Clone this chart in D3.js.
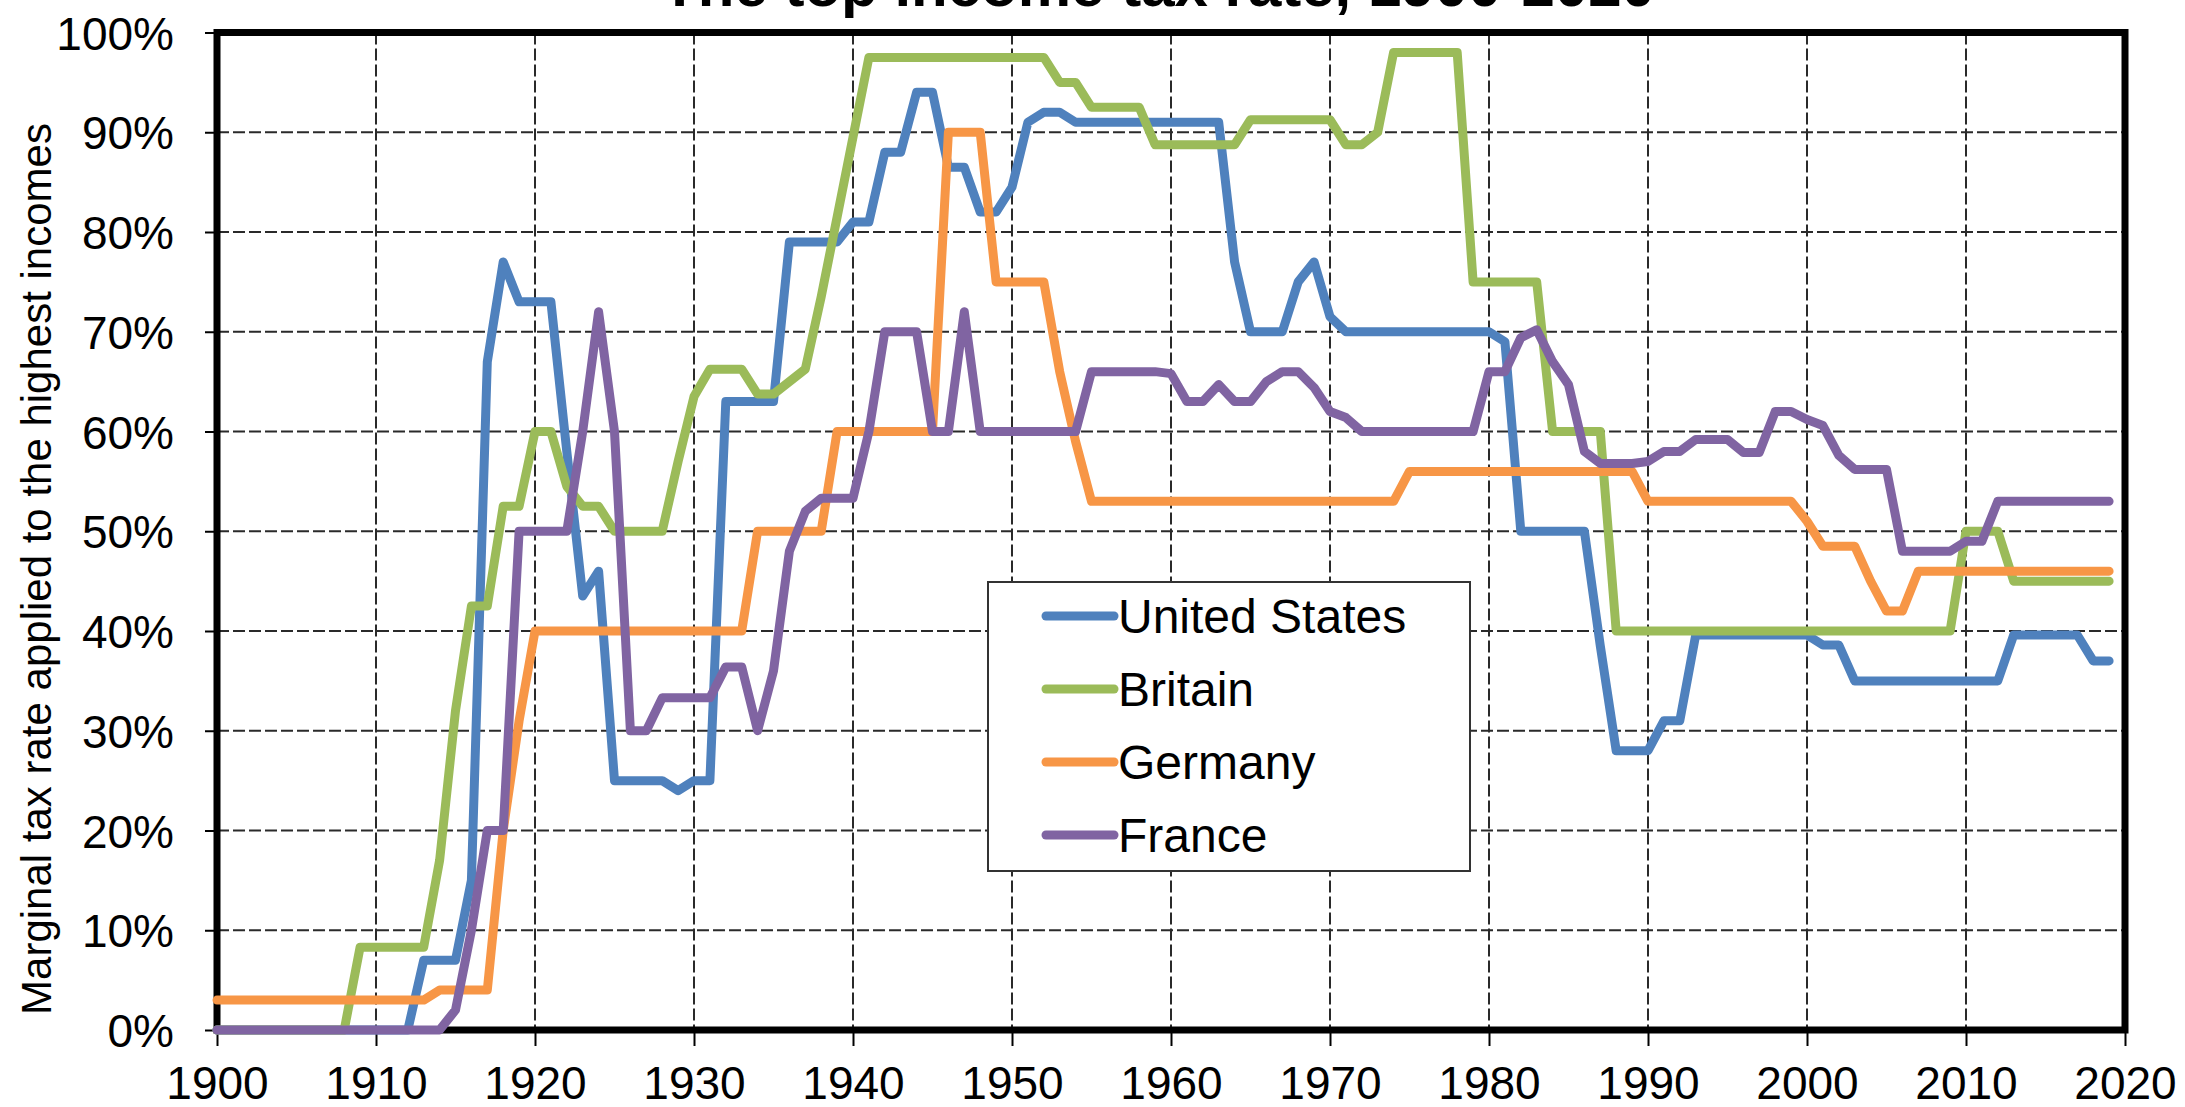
<!DOCTYPE html>
<html>
<head>
<meta charset="utf-8">
<script src="https://cdn.jsdelivr.net/npm/d3@7"></script>
<style>
  body { margin: 0; background: #fff; }
  svg { display: block; font-family: "Liberation Sans", Arial, sans-serif; }
</style>
</head>
<body>
<svg id="chart" width="2185" height="1107"></svg>
<script>
// --- Data (top marginal income tax rate, %, one value per year 1900-2019)
const years = d3.range(1900, 2020);

const unitedStates = [
  0, 0, 0, 0, 0, 0, 0, 0, 0, 0,
  0, 0, 0, 7, 7, 7, 15, 67, 77, 73,
  73, 73, 58, 43.5, 46, 25, 25, 25, 25, 24,
  25, 25, 63, 63, 63, 63, 79, 79, 79, 79,
  81, 81, 88, 88, 94, 94, 86.5, 86.5, 82, 82,
  84.5, 91, 92, 92, 91, 91, 91, 91, 91, 91,
  91, 91, 91, 91, 77, 70, 70, 70, 75, 77,
  71.5, 70, 70, 70, 70, 70, 70, 70, 70, 70,
  70, 69, 50, 50, 50, 50, 50, 38.5, 28, 28,
  28, 31, 31, 39.6, 39.6, 39.6, 39.6, 39.6, 39.6, 39.6,
  39.6, 38.6, 38.6, 35, 35, 35, 35, 35, 35, 35,
  35, 35, 35, 39.6, 39.6, 39.6, 39.6, 39.6, 37, 37
];

const britain = [
  0, 0, 0, 0, 0, 0, 0, 0, 0, 8.3,
  8.3, 8.3, 8.3, 8.3, 17, 32, 42.5, 42.5, 52.5, 52.5,
  60, 60, 54.5, 52.5, 52.5, 50, 50, 50, 50, 57,
  63.5, 66.25, 66.25, 66.25, 63.75, 63.75, 65, 66.25, 73.5, 81.5,
  89.5, 97.5, 97.5, 97.5, 97.5, 97.5, 97.5, 97.5, 97.5, 97.5,
  97.5, 97.5, 97.5, 95, 95, 92.5, 92.5, 92.5, 92.5, 88.75,
  88.75, 88.75, 88.75, 88.75, 88.75, 91.25, 91.25, 91.25, 91.25, 91.25,
  91.25, 88.75, 88.75, 90, 98, 98, 98, 98, 98, 75,
  75, 75, 75, 75, 60, 60, 60, 60, 40, 40,
  40, 40, 40, 40, 40, 40, 40, 40, 40, 40,
  40, 40, 40, 40, 40, 40, 40, 40, 40, 40,
  50, 50, 50, 45, 45, 45, 45, 45, 45, 45
];

const germany = [
  3, 3, 3, 3, 3, 3, 3, 3, 3, 3,
  3, 3, 3, 3, 4, 4, 4, 4, 20, 31,
  40, 40, 40, 40, 40, 40, 40, 40, 40, 40,
  40, 40, 40, 40, 50, 50, 50, 50, 50, 60,
  60, 60, 60, 60, 60, 60, 90, 90, 90, 75,
  75, 75, 75, 66, 59, 53, 53, 53, 53, 53,
  53, 53, 53, 53, 53, 53, 53, 53, 53, 53,
  53, 53, 53, 53, 53, 56, 56, 56, 56, 56,
  56, 56, 56, 56, 56, 56, 56, 56, 56, 56,
  53, 53, 53, 53, 53, 53, 53, 53, 53, 53,
  51, 48.5, 48.5, 48.5, 45, 42, 42, 46, 46, 46,
  46, 46, 46, 46, 46, 46, 46, 46, 46, 46
];

const france = [
  0, 0, 0, 0, 0, 0, 0, 0, 0, 0,
  0, 0, 0, 0, 0, 2, 10, 20, 20, 50,
  50, 50, 50, 60, 72, 60, 30, 30, 33.3, 33.3,
  33.3, 33.3, 36.4, 36.4, 30, 36, 48, 52, 53.3, 53.3,
  53.3, 60, 70, 70, 70, 60, 60, 72, 60, 60,
  60, 60, 60, 60, 60, 66, 66, 66, 66, 66,
  65.8, 63, 63, 64.7, 63, 63, 65, 66, 66, 64.4,
  62, 61.4, 60, 60, 60, 60, 60, 60, 60, 60,
  66, 66, 69.4, 70.2, 67, 64.7, 58, 56.8, 56.8, 56.8,
  57, 58, 58, 59.2, 59.2, 59.2, 57.9, 57.9, 62, 62,
  61.2, 60.6, 57.6, 56.2, 56.2, 56.2, 48, 48, 48, 48,
  49, 49, 53, 53, 53, 53, 53, 53, 53, 53
];

const seriesNames = ["United States", "Britain", "Germany", "France"];
const seriesValues = [unitedStates, britain, germany, france];
const seriesColors = ["#4F81BD", "#9BBB59", "#F79646", "#8064A2"];

const yTicks = [0, 10, 20, 30, 40, 50, 60, 70, 80, 90, 100];
const xTicks = [1900, 1910, 1920, 1930, 1940, 1950, 1960, 1970, 1980, 1990, 2000, 2010, 2020];

// --- Layout
const svg = d3.select("#chart");
const plot = { left: 217, right: 2125, top: 32.5, bottom: 1030 };

const x = d3.scaleLinear().domain([1900, 2020]).range([plot.left, plot.right]);
const y = d3.scaleLinear().domain([0, 100]).range([plot.bottom, plot.top]);

svg.append("rect")
  .attr("width", 2185)
  .attr("height", 1107)
  .attr("fill", "#fff");

// --- Title (cut off at the top edge, as in the source)
svg.append("text")
  .attr("x", 1158)
  .attr("y", 6)
  .attr("text-anchor", "middle")
  .style("font-size", "60px")
  .style("font-weight", "bold")
  .text("The top income tax rate, 1900-2020");

// --- Gridlines
svg.selectAll(".hgrid")
  .data(yTicks.filter(d => d > 0 && d < 100))
  .enter()
  .append("line")
  .attr("class", "hgrid")
  .attr("x1", plot.left)
  .attr("x2", plot.right)
  .attr("y1", d => y(d))
  .attr("y2", d => y(d))
  .attr("stroke", "#2a2a2a")
  .attr("stroke-width", 2)
  .attr("stroke-dasharray", "12,4");

svg.selectAll(".vgrid")
  .data(xTicks.filter(d => d > 1900 && d < 2020))
  .enter()
  .append("line")
  .attr("class", "vgrid")
  .attr("x1", d => x(d))
  .attr("x2", d => x(d))
  .attr("y1", plot.top)
  .attr("y2", plot.bottom)
  .attr("stroke", "#2a2a2a")
  .attr("stroke-width", 2)
  .attr("stroke-dasharray", "12,4");

// --- Axes
const yAxis = svg.append("g")
  .attr("transform", `translate(${plot.left},0)`)
  .call(d3.axisLeft(y)
    .tickValues(yTicks)
    .tickSize(12)
    .tickPadding(31)
    .tickFormat(d => d + "%"));

const xAxis = svg.append("g")
  .attr("transform", `translate(0,${plot.bottom})`)
  .call(d3.axisBottom(x)
    .tickValues(xTicks)
    .tickSize(16)
    .tickFormat(d3.format("d")));

[yAxis, xAxis].forEach(g => {
  g.select(".domain").remove();
  g.selectAll(".tick line").attr("stroke", "#000").attr("stroke-width", 2);
  g.selectAll(".tick text")
    .attr("fill", "#000")
    .style("font-family", "'Liberation Sans', Arial, sans-serif")
    .style("font-size", "46px");
});

yAxis.selectAll(".tick text").attr("dy", "0.36em");
xAxis.selectAll(".tick text").attr("y", 69).attr("dy", 0);

// --- Plot frame
svg.append("rect")
  .attr("x", plot.left)
  .attr("y", plot.top)
  .attr("width", plot.right - plot.left)
  .attr("height", plot.bottom - plot.top)
  .attr("fill", "none")
  .attr("stroke", "#000")
  .attr("stroke-width", 7);

// --- Series lines
const line = d3.line()
  .x((d, i) => x(years[i]))
  .y(d => y(d));

svg.selectAll(".series")
  .data(seriesValues)
  .enter()
  .append("path")
  .attr("class", "series")
  .attr("d", line)
  .attr("fill", "none")
  .attr("stroke", (d, i) => seriesColors[i])
  .attr("stroke-width", 9)
  .attr("stroke-linejoin", "round")
  .attr("stroke-linecap", "round");

// --- Y axis title
svg.append("text")
  .attr("transform", "translate(51,569) rotate(-90)")
  .attr("text-anchor", "middle")
  .style("font-size", "42px")
  .text("Marginal tax rate applied to the highest incomes");

// --- Legend
const legend = svg.append("g").attr("transform", "translate(988,582)");

legend.append("rect")
  .attr("width", 482)
  .attr("height", 289)
  .attr("fill", "#fff")
  .attr("stroke", "#333")
  .attr("stroke-width", 2);

const rows = legend.selectAll(".row")
  .data(seriesNames)
  .enter()
  .append("g")
  .attr("class", "row")
  .attr("transform", (d, i) => `translate(0,${34 + i * 73})`);

rows.append("line")
  .attr("x1", 58)
  .attr("x2", 126)
  .attr("stroke", (d, i) => seriesColors[i])
  .attr("stroke-width", 9)
  .attr("stroke-linecap", "round");

rows.append("text")
  .attr("x", 130)
  .attr("y", 17)
  .style("font-size", "48px")
  .text(d => d);
</script>
</body>
</html>
